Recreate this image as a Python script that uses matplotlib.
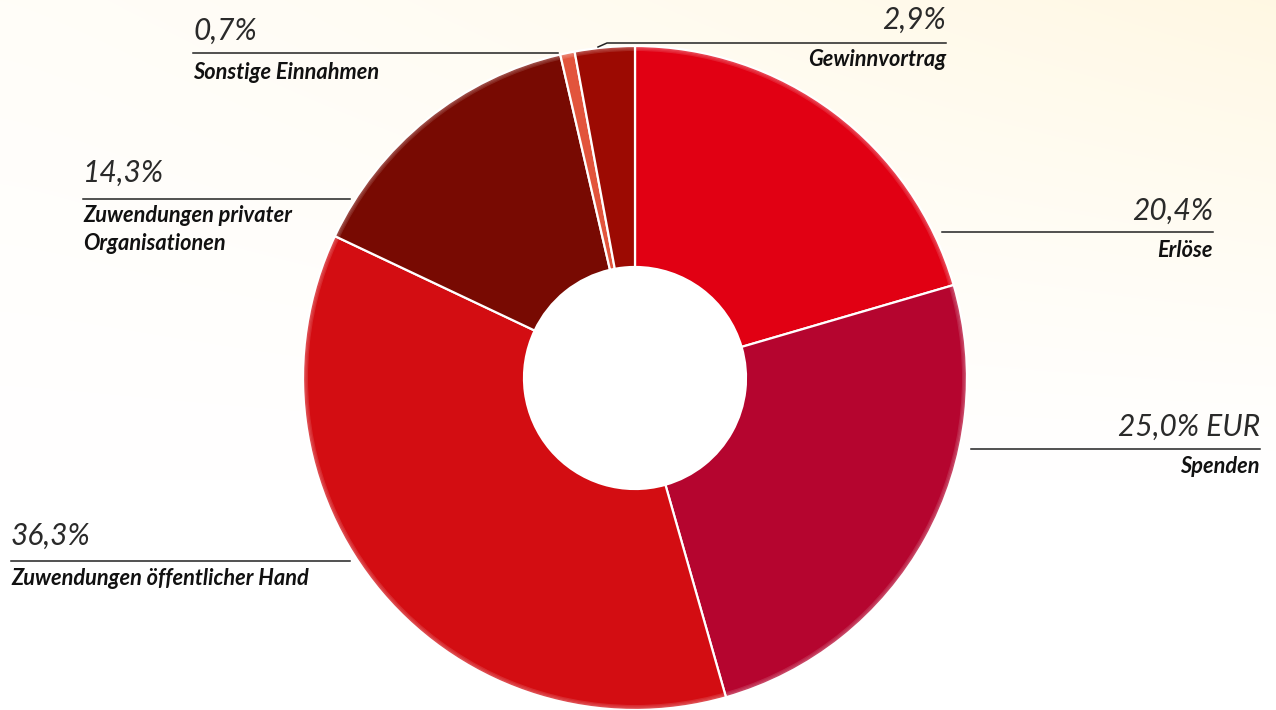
import numpy as np
import matplotlib
matplotlib.use("Agg")
import matplotlib.pyplot as plt
from matplotlib.patches import Wedge, Circle

W, H = 1276, 710

# data (clockwise from 12 o'clock)
names = ["Erlöse", "Spenden", "Zuwendungen öffentlicher Hand",
         "Zuwendungen privater\nOrganisationen", "Sonstige Einnahmen", "Gewinnvortrag"]
shares = [20.4, 25.0, 36.3, 14.3, 0.7, 2.9]
pct_labels = ["20,4%", "25,0% EUR", "36,3%", "14,3%", "0,7%", "2,9%"]
colors = ["#E10013", "#B5052F", "#D30D12", "#780A02", "#E2543C", "#9C0A02"]

fig = plt.figure(figsize=(W / 100, H / 100), dpi=100)
ax = fig.add_axes([0, 0, 1, 1])

# cream background, yellow towards top right
yy, xx = np.mgrid[0:H, 0:W]
t = np.clip(1.0 - yy / 480.0, 0, 1) ** 1.2 * (0.25 + 0.75 * (xx / W) ** 1.3)
top = np.array([1.0, 0.972, 0.89])
bot = np.array([1.0, 1.0, 1.0])
bg = bot + (top - bot) * t[..., None]
ax.imshow(bg, extent=[0, W, 0, H], origin="upper", zorder=0)

cx, cy = 635, H - 378
r_out, r_in = 332, 111

wedges, _ = ax.pie(shares, colors=colors, startangle=90, counterclock=False,
                   center=(cx, cy), radius=r_out, normalize=True,
                   wedgeprops=dict(width=r_out - r_in, edgecolor="white", linewidth=1.6))
for w in wedges:
    w.set_zorder(2)

# soft outer edge
for i in range(5):
    ax.add_patch(Wedge((cx, cy), r_out + 1 - i * 1.2, 0, 360, width=1.2,
                       facecolor="white", edgecolor="none", alpha=0.4 - i * 0.07, zorder=3))
ax.add_patch(Circle((cx, cy), r_in, facecolor="white", edgecolor="none", zorder=4))

# leader lines (pixel coords: x, y from top)
leaders = [
    [(942, 232), (1213, 232)],
    [(971, 449), (1260, 449)],
    [(11, 561), (350, 561)],
    [(83, 199), (350, 199)],
    [(193, 53), (558, 53)],
    [(598, 47), (607, 43), (946, 43)],
]
for pts in leaders:
    xs = [p[0] for p in pts]
    ys = [H - p[1] for p in pts]
    ax.plot(xs, ys, color="#222222", lw=1.1, zorder=5)

# label positions: (x, pct baseline, name baseline, align)
label_pos = [
    (1213, 220, 257, "right"),
    (1260, 436, 473, "right"),
    (11, 545, 585, "left"),
    (83, 182, 222, "left"),
    (193, 40, 79, "left"),
    (946, 29, 66, "right"),
]
pct_font = dict(family=["Lato", "DejaVu Sans"], style="italic", weight="normal",
                size=21.5, color="#2a2a2a")
name_font = dict(family=["Lato", "DejaVu Sans"], style="italic", weight="bold",
                 size=15.7, color="#111111")
for (x, yp, yn, ha), pct, name in zip(label_pos, pct_labels, names):
    ax.text(x, H - yp, pct, ha=ha, va="baseline", zorder=6, **pct_font)
    for k, line in enumerate(name.split("\n")):
        ax.text(x, H - yn - k * 28, line, ha=ha, va="baseline", zorder=6, **name_font)

ax.set_xlim(0, W)
ax.set_ylim(0, H)
ax.set_aspect("auto")
ax.axis("off")

fig.savefig("out.png", dpi=100)
